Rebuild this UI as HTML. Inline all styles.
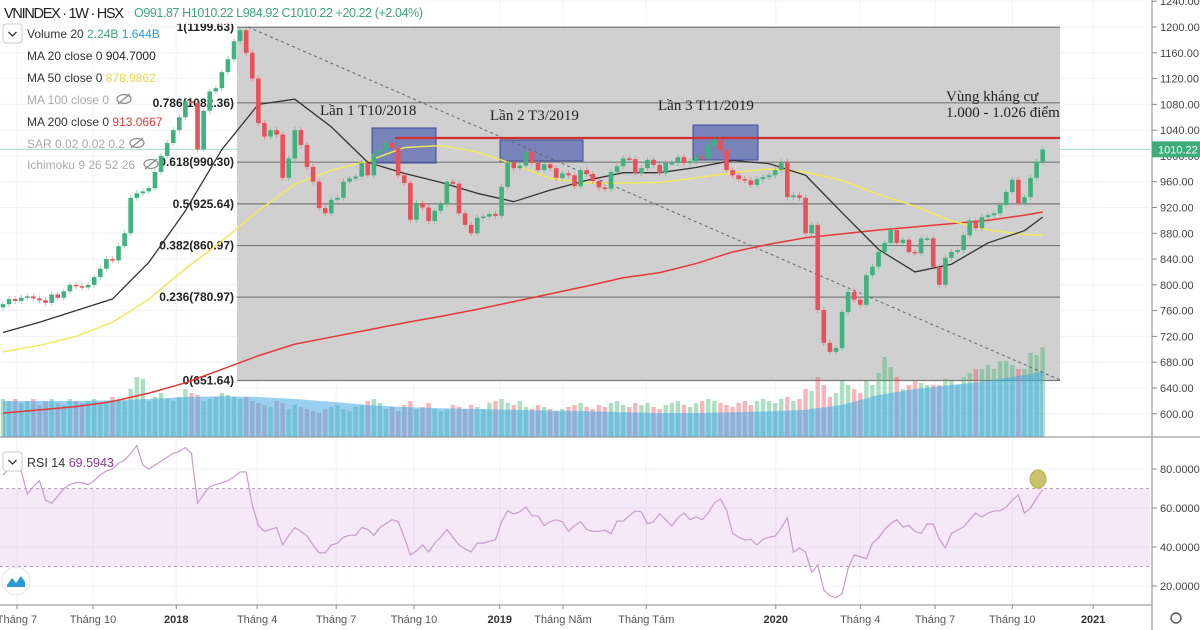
<!DOCTYPE html>
<html><head><meta charset="utf-8"><style>
html,body{margin:0;padding:0;background:#fff;}
svg{display:block;font-family:"Liberation Sans",sans-serif;}
</style></head><body>
<svg id="chart" width="1200" height="630" viewBox="0 0 1200 630">
<g id="grid"></g>
<rect x="237" y="27" width="823" height="353" fill="#d0d0d0"/>
<g id="fib"></g>
<g id="vol"></g>
<g id="boxes">
<rect x="372" y="128" width="64" height="35" fill="rgba(60,80,170,0.6)" stroke="#3b4d9a"/>
<rect x="500" y="140" width="83" height="21" fill="rgba(60,80,170,0.6)" stroke="#3b4d9a"/>
<rect x="693" y="125" width="65" height="35" fill="rgba(60,80,170,0.6)" stroke="#3b4d9a"/>
</g>
<line x1="248" y1="27" x2="1060" y2="380" stroke="#666" stroke-dasharray="3,3"/>
<g id="mas"></g>
<line x1="395" y1="138" x2="1060" y2="138" stroke="#d32f2f" stroke-width="2.2"/>
<g id="candles"></g>
<g id="notes" font-family="Liberation Serif,serif" font-size="15" fill="#222">
<text x="320" y="115">Lần 1 T10/2018</text>
<text x="490" y="120">Lần 2 T3/2019</text>
<text x="658" y="110">Lần 3 T11/2019</text>
<text x="946" y="101">Vùng kháng cự</text>
<text x="946" y="117">1.000 - 1.026 điểm</text>
</g>
<g id="rsi"></g>
<g id="axes"></g>
<g id="legend">
<rect x="0" y="0" width="430" height="24" fill="rgba(255,255,255,0.85)"/>
<text x="4" y="18" font-size="14.5" fill="#222" textLength="120">VNINDEX · 1W · HSX</text>
<text x="134" y="17" font-size="12.5" fill="#3fa57d" textLength="289">O991.87  H1010.22  L984.92  C1010.22  +20.22 (+2.04%)</text>
<rect x="3" y="24" width="19" height="19" rx="3" fill="#fff" stroke="#ccc"/>
<path d="M8.5 32 L12.5 36 L16.5 32" fill="none" stroke="#333" stroke-width="1.3"/>
<g font-size="12">
<text x="27" y="38" fill="#333">Volume 20 <tspan fill="#3fa57d">2.24B</tspan> <tspan fill="#2a9ad6">1.644B</tspan></text>
<text x="27" y="60" fill="#333">MA 20 close 0 <tspan fill="#222">904.7000</tspan></text>
<text x="27" y="82" fill="#333">MA 50 close 0 <tspan fill="#e8d84a">878.9862</tspan></text>
<text x="27" y="104" fill="#aaa">MA 100 close 0</text>
<text x="27" y="126" fill="#333">MA 200 close 0 <tspan fill="#e53935">913.0667</tspan></text>
<text x="27" y="148" fill="#aaa">SAR 0.02 0.02 0.2</text>
<text x="27" y="169" fill="#aaa">Ichimoku 9 26 52 26</text>
</g>
<g fill="none" stroke="#888" stroke-width="1.2">
<ellipse cx="124" cy="99" rx="7" ry="4.5"/><line x1="118" y1="104" x2="130" y2="94"/>
<ellipse cx="137" cy="143" rx="7" ry="4.5"/><line x1="131" y1="148" x2="143" y2="138"/>
<ellipse cx="151" cy="164" rx="7" ry="4.5"/><line x1="145" y1="169" x2="157" y2="159"/>
</g>
<rect x="3" y="452" width="19" height="19" rx="3" fill="#fff" stroke="#ccc"/>
<path d="M8.5 460 L12.5 464 L16.5 460" fill="none" stroke="#333" stroke-width="1.3"/>
<text x="27" y="467" font-size="12.5" fill="#333">RSI 14 <tspan fill="#8e3a96">69.5943</tspan></text>
<circle cx="16" cy="581" r="14" fill="#fff" stroke="#e6e6e6"/>
<path d="M7 585 L12 578 L16 583 L21 576 L25 582 L25 587 L7 587Z" fill="#2a9ad6"/>
</g>
<script>
const closes=[770,778,775,780,782,779,776,772,785,780,790,800,798,796,800,812,825,840,838,860,880,935,942,945,950,975,1000,1020,
1040,1060,1085,1082,1010,1070,1100,1105,1130,1150,1178,
1195,1160,1120,1051,1030,1040,1033,966,996,1040,1017,983,960,919,911,932,935,960,965,968,989,970,1004,1009,1020,1012,970,958,901,927,920,899,915,925,960,957,911,893,880,904,906,910,907,952,990,981,985,1006,989,978,987,981,966,973,970,953,978,972,961,951,949,975,984,996,995,973,
981,994,986,973,989,989,998,989,992,998,997,1017,1025,1009,978,970,964,962,955,964,967,970,978,991,936,939,935,880,893,761,710,696,702,758,789,777,769,815,828,851,865,885,865,870,851,849,872,872,828,800,842,851,854,877,900,888,905,908,911,924,944,963,927,936,966,991,1010];
const volumes=[.95,.9,.95,.85,.9,.95,.8,.9,.95,.85,.8,.95,.9,.85,.9,.95,.85,.9,1.0,.95,.9,1.2,1.5,1.45,.9,1.0,1.1,.95,
.9,1.0,1.2,1.1,1.05,.9,.95,1.0,1.1,1.05,1.0,
.95,1.0,.9,.85,.8,.75,.9,.85,.7,.8,.75,.7,.65,.6,.7,.75,.8,.7,.65,.75,.8,.9,.95,.85,.7,.75,.65,.8,.9,.7,.75,.85,.7,.65,.7,.8,.75,.7,.8,.75,.7,.85,.9,.95,.85,.8,.9,.75,.7,.8,.75,.7,.65,.7,.75,.8,.85,.75,.7,.8,.75,.85,.9,.8,.75,.85,
.8,.85,.75,.7,.8,.85,.9,.8,.75,.85,.9,.95,.9,.85,.8,.75,.85,.9,.8,.9,.95,.9,.85,.95,1.0,.9,.95,1.2,1.15,1.5,1.3,1.0,1.1,1.4,1.3,1.2,1.1,1.4,1.3,1.6,2.0,1.75,1.5,1.2,1.3,1.4,1.35,1.3,1.3,1.3,1.45,1.4,1.3,1.5,1.6,1.7,1.7,1.8,1.7,1.9,1.9,1.8,1.7,1.7,2.1,2.05,2.24];
const maIdx=[0,6,12,18,24,30,36,42,48,54,60,66,72,78,84,90,96,102,108,114,120,126,132,138,144,150,156,162,168,171];
const ma20=[726,742,760,778,835,915,1010,1080,1088,1045,990,973,959,942,929,947,962,974,974,982,993,988,970,912,855,820,832,865,884,905];
const ma50=[696,706,720,742,778,825,868,915,956,978,992,1013,1016,1006,987,965,958,958,959,966,974,980,975,962,940,922,899,885,878,877];
const ma200=[601,606,611,619,632,648,669,690,708,719,730,741,751,762,774,786,798,811,819,833,851,863,873,879,885,890,895,900,908,913];
const volMa=[.9,.9,.9,.92,.95,1.0,1.02,1.0,.95,.88,.8,.75,.72,.7,.68,.66,.65,.62,.6,.6,.62,.64,.68,.8,1.05,1.2,1.3,1.4,1.55,1.64];
const rsi=[77,80,79,79,67,71,74,64,62.5,66,70,72,73,73,72,74,77,79,80,83,84.6,88,92,82,80,82,84,86,88,89,
91,88,62.5,67,71,72,73,74,76,78.5,78.5,61.5,51,48,49,50,41,46,50,48,45.6,41,37,37,41,42,45,46,46,50,
49,46,50,52,54,53,45,36,38,41,37.5,42,45,49,45,41,39,37.5,42,42,43,43.6,53,58.5,57,58,60.5,56,56,51,
53,54,53,48,51,53,49,48,48,48.7,46.7,53.3,53.3,56,58.5,58,51.8,53,57,54,50.8,55,57.4,54,55.4,54,57.4,62.6,64.6,59,
47,45,43.6,44,41,44,45,45.6,49.7,55,37.4,39.5,37.4,27,30.8,18,15,14,16,29,36,35,34,42,44.6,49,52,54,50.3,51,
48,47,51.8,51.8,44,39.5,47,48.7,50.3,54,57.4,55.4,57.4,58.5,58.5,60.5,64,66.7,57.4,60,65,69.6];
const priceTicks=[1240,1200,1160,1120,1080,1040,1000,960,920,880,840,800,760,720,680,640,600];
const rsiTicks=[80,60,40,20];
const fibRatios=["1","0.786","0.618","0.5","0.382","0.236","0"];
const fibPrices=[1199.63,1082.36,990.30,925.64,860.97,780.97,651.64];
const timeLabels=["Tháng 7","Tháng 10","2018","Tháng 4","Tháng 7","Tháng 10","2019","Tháng Năm","Tháng Tám","2020","Tháng 4","Tháng 7","Tháng 10","2021"];
const timePos=[2.3,14.8,28.5,41.8,54.8,67.6,81.7,92.1,105.8,127.1,141,153.3,166,179.3];
const lastPrice=1010.22;

const NS="http://www.w3.org/2000/svg";
const xI=i=>3+i*6.08, yP=p=>27+(1200-p)*0.6446, yV=v=>437-v*40, yR=r=>469+(80-r)*1.95;
function mk(tag,attrs,parent){const e=document.createElementNS(NS,tag);for(const k in attrs)e.setAttribute(k,attrs[k]);parent.appendChild(e);return e;}
const G=id=>document.getElementById(id);
const grid=G('grid'),fib=G('fib'),vol=G('vol'),mas=G('mas'),cg=G('candles'),rg=G('rsi'),ax=G('axes');

priceTicks.forEach(p=>{const l=mk('line',{x1:0,x2:1150,y1:yP(p),y2:yP(p),stroke:'#f0f3fa'},grid);

});
rsiTicks.forEach(r=>{const l=mk('line',{x1:0,x2:1150,y1:yR(r),y2:yR(r),stroke:'#f0f3fa'},grid);

});
timePos.forEach(t=>{const l=mk('line',{x1:xI(t),x2:xI(t),y1:0,y2:605,stroke:'#f0f3fa'},grid);

});
const cp=mk('line',{x1:0,x2:1150,y1:yP(lastPrice),y2:yP(lastPrice),stroke:'#a9dcc4'},grid);



fibPrices.forEach((p,k)=>{const y=yP(p);
const l=mk('line',{x1:237,x2:1060,y1:y,y2:y,stroke:'#7a7a7a','stroke-width':1.2},fib);


const t=mk('text',{x:234,y:y+4,'text-anchor':'end','font-size':12,'font-weight':'bold',fill:'#222'},fib);
t.textContent=fibRatios[k]+'('+p.toFixed(2)+')';

});

closes.forEach((c,i)=>{const o=i?closes[i-1]:c-5;const up=c>=o;
const b=mk('rect',{x:xI(i)-2.2,y:yV(volumes[i]),width:4.4,height:437-yV(volumes[i]),fill:up?'rgba(60,180,110,0.42)':'rgba(235,80,95,0.42)'},vol);

});
let ad='M'+xI(maIdx[0])+' 437';maIdx.forEach((ix,k)=>{ad+=' L'+xI(ix)+' '+yV(volMa[k]);});ad+=' L'+xI(maIdx[maIdx.length-1])+' 437Z';
const va=mk('path',{d:ad,fill:'rgba(70,170,230,0.55)'},vol);



function line(arr,col,w,name){const d=maIdx.map((ix,k)=>(k?'L':'M')+xI(ix)+' '+yP(arr[k])).join(' ');
const p=mk('path',{d:d,fill:'none',stroke:col,'stroke-width':w,'stroke-linejoin':'round'},mas);

}
line(ma200,'#e53935',1.5,'ma200-line');
line(ma50,'#f2e85a',1.5,'ma50-line');
line(ma20,'#333',1.3,'ma20-line');

closes.forEach((c,i)=>{const o=i?closes[i-1]:c-5;const up=c>=o;const col=up?'#3fb27f':'#e8505b';
const hi=Math.max(o,c),lo=Math.min(o,c),x=xI(i);
const w=mk('line',{x1:x,x2:x,y1:yP(hi)-3,y2:yP(lo)+3,stroke:col,'stroke-opacity':0.5},cg);


const r=mk('rect',{x:x-2.3,y:yP(hi),width:4.6,height:Math.max(1.5,yP(lo)-yP(hi)),fill:col},cg);

});

const band=mk('rect',{x:0,y:yR(70),width:1150,height:yR(30)-yR(70),fill:'rgba(156,39,176,0.1)'},rg);


[70,30].forEach(v=>{const l=mk('line',{x1:0,x2:1150,y1:yR(v),y2:yR(v),stroke:'#b9a0bc','stroke-dasharray':'3,3'},rg);

});
const rp=mk('path',{d:rsi.map((v,i)=>(i?'L':'M')+xI(i)+' '+yR(v)).join(' '),fill:'none',stroke:'#c79ccc','stroke-width':1.2},rg);


const el=mk('ellipse',{cx:1038,cy:479,rx:8,ry:9,fill:'#c9c46c',stroke:'#b3ad50'},rg);



mk('line',{x1:1152,x2:1152,y1:0,y2:630,stroke:'#888'},ax);
mk('line',{x1:0,x2:1200,y1:437,y2:437,stroke:'#888'},ax);
mk('line',{x1:0,x2:1152,y1:605,y2:605,stroke:'#888'},ax);
priceTicks.forEach(p=>{mk('line',{x1:1152,x2:1157,y1:yP(p),y2:yP(p),stroke:'#888'},ax);
const t=mk('text',{x:1160,y:yP(p)+4,'font-size':11,fill:'#444'},ax);t.textContent=p.toFixed(2);

});
rsiTicks.forEach(r=>{mk('line',{x1:1152,x2:1157,y1:yR(r),y2:yR(r),stroke:'#888'},ax);
const t=mk('text',{x:1160,y:yR(r)+4,'font-size':11,fill:'#444'},ax);t.textContent=r.toFixed(4);

});
const lb=mk('rect',{x:1152,y:yP(lastPrice)-8,width:48,height:16,fill:'#3dae7a'},ax);


const lt=mk('text',{x:1158,y:yP(lastPrice)+4,'font-size':11,fill:'#fff'},ax);lt.textContent=lastPrice.toFixed(2);
timeLabels.forEach((s,k)=>{const x=xI(timePos[k]);mk('line',{x1:x,x2:x,y1:605,y2:609,stroke:'#888'},ax);
const yr=/^\d{4}$/.test(s);
const t=mk('text',{x:x,y:623,'text-anchor':'middle','font-size':11,fill:yr?'#333':'#555','font-weight':yr?'bold':'normal'},ax);t.textContent=s;

});
const gear=mk('circle',{cx:1176,cy:618,r:5,fill:'none',stroke:'#555','stroke-width':1.4},ax);


</script>
</svg>
</body></html>
